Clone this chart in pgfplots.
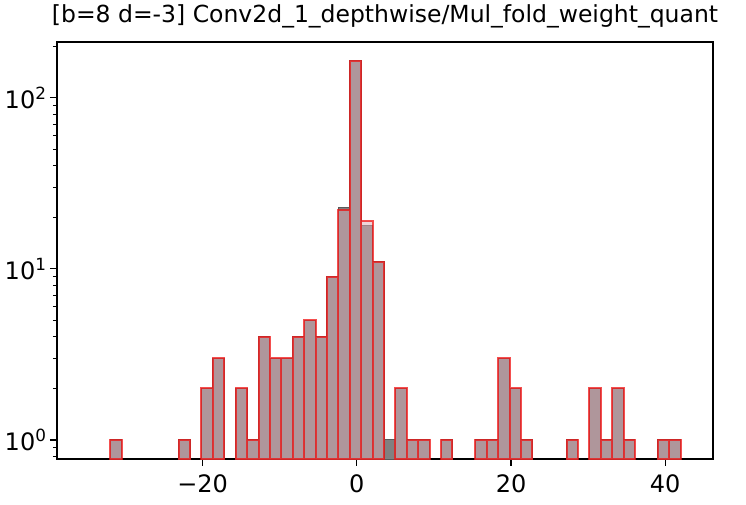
\documentclass[border=0pt]{standalone}
\usepackage{fontspec}
\setmainfont{DejaVu Sans}
\usepackage{pgfplots}
\pgfplotsset{compat=1.18}
\definecolor{grayfill}{RGB}{128,128,128}
\definecolor{grayedge}{RGB}{90,90,90}
\definecolor{pinkfill}{RGB}{222,172,182}
\definecolor{rededge}{RGB}{240,20,20}
\begin{document}
\begin{tikzpicture}
\begin{axis}[
  scale only axis,
  width=656pt, height=417pt,
  xmode=normal, ymode=log,
  xmin=-38.9, xmax=46.2,
  ymin=0.774, ymax=212,
  log origin y=infty,
  axis line style={line width=1.4pt, black},
  tick align=outside,
  xtick pos=bottom, ytick pos=left,
  xtick={-20,0,20,40},
  xticklabels={−20,0,20,40},
  ytick={1,10,100},
  yticklabels={10\textsuperscript{0},10\textsuperscript{1},10\textsuperscript{2}},
  minor ytick={0.8,0.9,2,3,4,5,6,7,8,9,20,30,40,50,60,70,80,90,200},
  major tick length=7pt, minor tick length=4pt,
  every tick/.style={black, line width=1.2pt},
  minor tick style={line width=1pt},
  tick label style={font=\fontsize{24}{28}\selectfont},
  xticklabel style={yshift=-5pt},
  title={[b=8 d=-3] Conv2d\_1\_depthwise/Mul\_fold\_weight\_quant},
  title style={font=\fontsize{23.5}{27}\selectfont, at={(0.5,1)}, anchor=south, yshift=4pt},
  ybar, bar width=1.48, bar shift=0pt,
]
\addplot[fill=grayfill, draw=grayedge, line width=1pt] coordinates {
(-31.26,1) (-22.38,1) (-19.42,2) (-17.94,3) (-14.98,2) (-13.50,1)
(-12.02,4) (-10.54,3) (-9.06,3) (-7.58,4) (-6.10,5) (-4.62,4)
(-3.14,9) (-1.66,23) (-0.18,165) (1.30,18) (2.78,11) (4.26,1)
(5.74,2) (7.22,1) (8.70,1) (11.66,1) (16.10,1) (17.58,1)
(19.06,3) (20.54,2) (22.02,1) (27.94,1) (30.90,2) (32.38,1)
(33.86,2) (35.34,1) (39.78,1) (41.26,1)
};
\addplot[fill=pinkfill, fill opacity=0.5, draw=rededge, draw opacity=0.75, line width=2pt] coordinates {
(-31.26,1) (-22.38,1) (-19.42,2) (-17.94,3) (-14.98,2) (-13.50,1)
(-12.02,4) (-10.54,3) (-9.06,3) (-7.58,4) (-6.10,5) (-4.62,4)
(-3.14,9) (-1.66,22) (-0.18,165) (1.30,19) (2.78,11)
(5.74,2) (7.22,1) (8.70,1) (11.66,1) (16.10,1) (17.58,1)
(19.06,3) (20.54,2) (22.02,1) (27.94,1) (30.90,2) (32.38,1)
(33.86,2) (35.34,1) (39.78,1) (41.26,1)
};
\end{axis}
\path (current axis.south west) ++(-57pt,-45pt) rectangle ++(746pt,504pt);
\end{tikzpicture}
\end{document}
